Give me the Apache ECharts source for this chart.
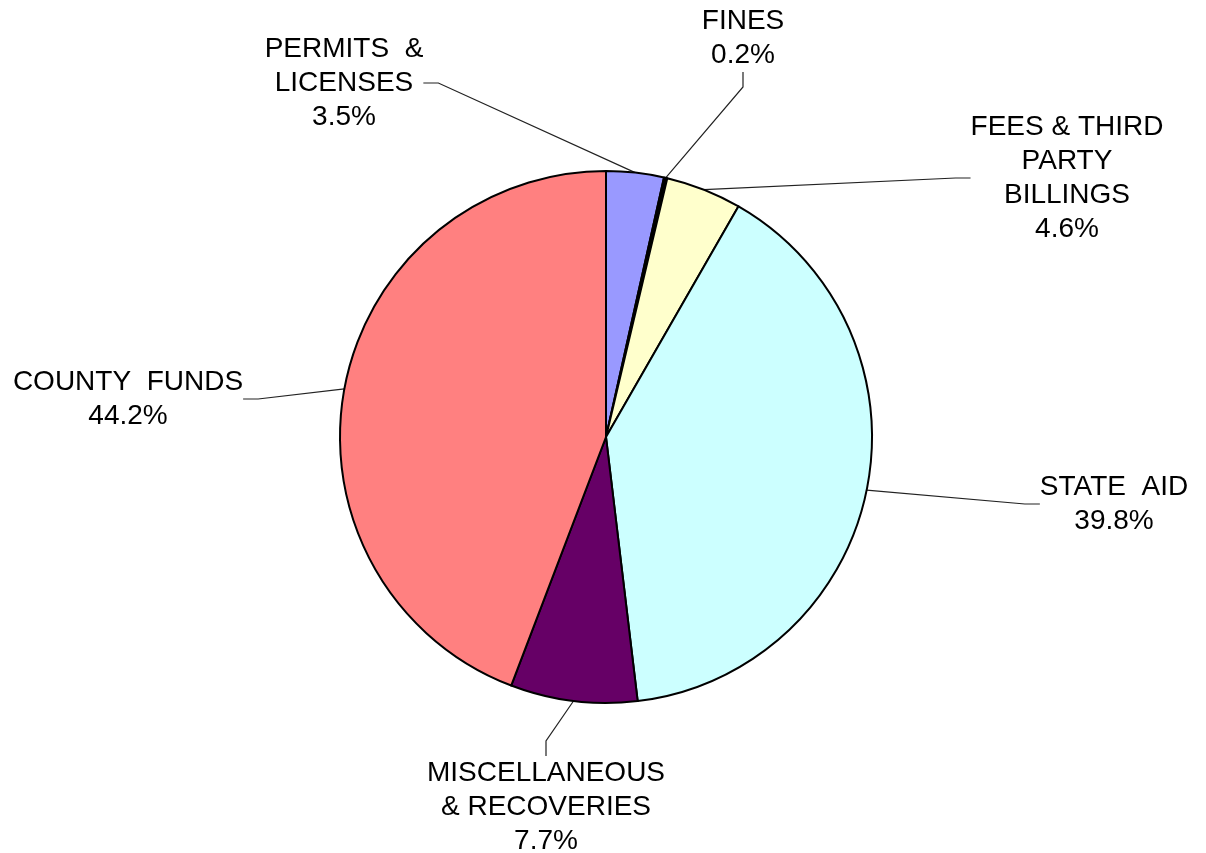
<!DOCTYPE html>
<html>
<head>
<meta charset="utf-8">
<script src="https://cdn.jsdelivr.net/npm/echarts@6/dist/echarts.min.js"></script>
<style>
html,body{margin:0;padding:0;background:#fff;}
#chart{width:1206px;height:853px;}
</style>
</head>
<body>
<div id="chart"></div>
<script>
const categories = ['PERMITS  &\nLICENSES', 'FINES', 'FEES & THIRD\nPARTY\nBILLINGS', 'STATE  AID', 'MISCELLANEOUS\n& RECOVERIES', 'COUNTY  FUNDS'];
const values = [3.5, 0.2, 4.6, 39.8, 7.7, 44.2];
const colors = ['#9999FF', '#000000', '#FFFFCC', '#CCFFFF', '#660066', '#FF8080'];
const labelCenters = [[344, 83], [743, 38], [1067, 178], [1114, 504], [546, 807], [128, 399]];

const chart = echarts.init(document.getElementById('chart'));
chart.setOption({
  backgroundColor: '#ffffff',
  animation: false,
  series: [{
    type: 'pie',
    center: [606, 437],
    radius: [0, 266],
    startAngle: 90,
    clockwise: true,
    avoidLabelOverlap: false,
    data: categories.map((c, i) => ({
      name: c,
      value: values[i],
      itemStyle: { color: colors[i] }
    })),
    itemStyle: { borderColor: '#000', borderWidth: 2 },
    label: {
      show: true,
      formatter: p => p.name + '\n' + p.value.toFixed(1) + '%',
      fontFamily: 'Liberation Sans, Arial, sans-serif',
      fontSize: 28,
      lineHeight: 34,
      color: '#000',
      align: 'center'
    },
    labelLine: {
      show: true,
      length: 20,
      length2: 15,
      lineStyle: { color: '#222', width: 1.2 }
    },
    labelLayout: function (params) {
      const p = labelCenters[params.dataIndex];
      return { x: p[0], y: p[1], align: 'center', verticalAlign: 'middle' };
    },
    emphasis: { disabled: true }
  }]
});
</script>
</body>
</html>
